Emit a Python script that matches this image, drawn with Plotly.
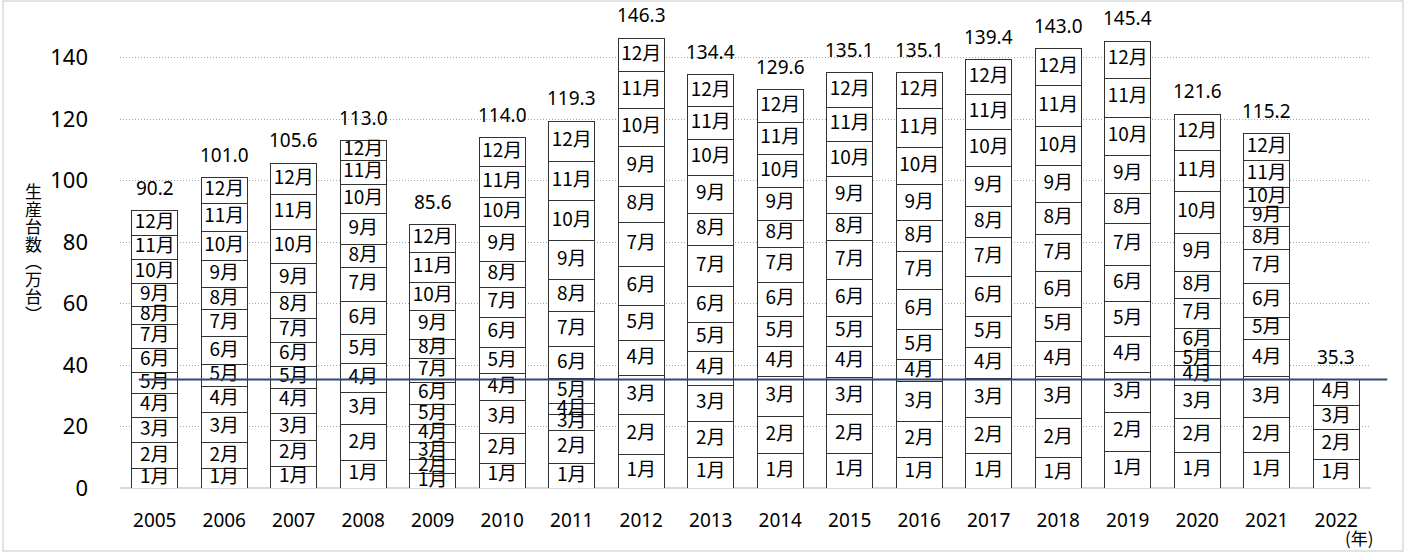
import numpy as np
import plotly.graph_objects as go

years = [str(y) for y in range(2005, 2023)]
month_names = ["1月", "2月", "3月", "4月", "5月", "6月", "7月", "8月", "9月", "10月", "11月", "12月"]

m1 = [6.2, 6.2, 7.1, 8.8, 4.7, 8.0, 7.9, 10.9, 10.0, 11.1, 11.3, 10.0, 11.1, 9.8, 12.0, 11.6, 11.4, 9.3]
m2 = [8.5, 8.5, 8.4, 11.8, 4.6, 9.7, 10.7, 13.1, 11.8, 12.3, 12.5, 11.5, 11.8, 12.7, 12.7, 10.9, 11.4, 9.8]
m3 = [8.2, 9.9, 8.8, 10.6, 5.5, 10.7, 5.3, 12.6, 11.7, 12.8, 12.3, 13.1, 12.7, 13.9, 13.0, 10.9, 13.4, 7.9]
m4 = [7.9, 8.4, 8.2, 9.3, 6.0, 8.8, 3.7, 11.3, 10.9, 9.8, 10.0, 7.1, 10.1, 11.2, 11.5, 6.3, 12.2, 8.3]
m5 = [6.7, 7.1, 7.1, 9.5, 6.3, 8.4, 7.9, 11.4, 9.3, 9.8, 9.8, 9.8, 10.1, 11.1, 11.6, 4.6, 7.1, None]
m6 = [7.9, 9.1, 7.7, 10.7, 7.3, 10.0, 10.5, 12.9, 11.8, 11.2, 12.0, 13.1, 13.1, 11.6, 11.7, 7.6, 11.1, None]
m7 = [7.9, 8.8, 8.0, 11.2, 7.9, 9.7, 11.3, 14.2, 13.5, 11.4, 12.7, 12.5, 12.5, 12.1, 13.5, 9.8, 10.9, None]
m8 = [5.8, 7.1, 8.2, 7.2, 6.1, 8.3, 10.6, 11.8, 10.4, 8.8, 8.6, 9.8, 10.2, 10.5, 9.8, 8.7, 7.7, None]
m9 = [7.3, 9.0, 9.5, 10.1, 9.5, 11.4, 12.6, 12.8, 12.3, 10.6, 12.0, 11.8, 12.9, 12.0, 12.3, 12.5, 6.2, None]
m10 = [7.8, 9.4, 11.0, 9.6, 9.1, 9.4, 12.9, 12.6, 11.7, 10.7, 11.5, 12.0, 12.0, 12.8, 12.5, 13.6, 6.5, None]
m11 = [8.1, 9.2, 11.5, 7.7, 9.7, 10.1, 12.8, 11.8, 10.7, 10.4, 11.2, 12.8, 11.4, 13.3, 12.8, 13.2, 8.7, None]
m12 = [7.9, 8.3, 10.1, 6.5, 8.9, 9.5, 13.1, 10.9, 10.3, 10.7, 11.2, 11.6, 11.5, 12.0, 12.0, 11.9, 8.6, None]

months = [m1, m2, m3, m4, m5, m6, m7, m8, m9, m10, m11, m12]
y_ticks = [0, 20, 40, 60, 80, 100, 120, 140]
y_title_chars = ["生", "産", "台", "数", "︵", "万", "台", "︶"]

arr = np.array([[np.nan if v is None else v for v in m] for m in months], dtype=float)
filled = np.nan_to_num(arr)
cum = np.cumsum(filled, axis=0)
bases = cum - filled
totals = [round(float(t), 1) for t in cum[-1]]
ref_value = totals[-1]

CJK = "Noto Sans CJK JP"
NUM = "Noto Sans"

fig = go.Figure()
for i, m in enumerate(months):
    fig.add_trace(go.Bar(
        x=years, y=m, name=month_names[i],
        marker=dict(color="white", line=dict(color="#333333", width=1)),
        hoverinfo="skip", showlegend=False,
    ))

# month labels at segment centres
for i, m in enumerate(months):
    xs, ys, ts = [], [], []
    for j, v in enumerate(m):
        if v is None:
            continue
        xs.append(years[j])
        ys.append(float(bases[i, j] + v / 2))
        ts.append(month_names[i])
    fig.add_trace(go.Scatter(
        x=xs, y=ys, text=ts, mode="text", textposition="middle center",
        textfont=dict(family=CJK, size=19, color="black"),
        hoverinfo="skip", showlegend=False, cliponaxis=False,
    ))

# totals above bars
for j, yr in enumerate(years):
    fig.add_annotation(x=j, y=totals[j], xref="x", yref="y", text=f"{totals[j]:.1f}",
                       showarrow=False, yanchor="bottom", yshift=8,
                       font=dict(family=NUM, size=19, color="black"))

# reference line at latest year's total
fig.add_shape(type="line", xref="paper", yref="y", x0=0.015, x1=1.013,
              y0=ref_value, y1=ref_value, line=dict(color="#2F4878", width=2), layer="above")

# chart border
fig.add_shape(type="rect", xref="paper", yref="paper", x0=-0.0935, x1=1.0256,
              y0=-0.1367, y1=1.0564, line=dict(color="#D9D9D9", width=1.5))

# y-axis title (vertical stacked)
for i, ch in enumerate(y_title_chars):
    fig.add_annotation(x=-0.0703, y=0.512, xref="paper", yref="paper", text=ch,
                       showarrow=False, xshift=-9, yshift=-(i - 3.5) * 17.5,
                       font=dict(family=CJK, size=17, color="black"))

fig.add_annotation(x=1.0, y=-0.1, xref="paper", yref="paper", text="(年)", showarrow=False,
                   xanchor="center", yanchor="middle", xshift=-12, yshift=-3,
                   font=dict(family=CJK, size=17, color="black"))

fig.update_layout(
    width=1407, height=553,
    margin=dict(l=120, r=36, t=27, b=65),
    paper_bgcolor="white", plot_bgcolor="white",
    barmode="stack", bargap=0.338,
    xaxis=dict(type="category", showgrid=False, showline=False, ticks="",
               tickfont=dict(family=NUM, size=19, color="black"),
               ticklabelstandoff=19, range=[-0.5, 17.5]),
    yaxis=dict(range=[0, 150], tickvals=y_ticks, showgrid=True, gridcolor="#A6A6A6",
               griddash="1px,2px", gridwidth=1, zeroline=True, zerolinecolor="#D9D9D9",
               zerolinewidth=2, ticks="", ticklabelstandoff=31,
               tickfont=dict(family=NUM, size=22, color="black")),
)

fig.write_html("out.html", config={"displayModeBar": False},
               post_script="document.body.style.margin='0';document.body.style.overflow='hidden';")
